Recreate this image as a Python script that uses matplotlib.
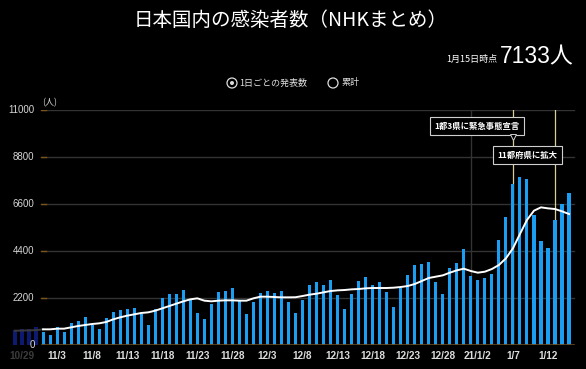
import matplotlib
matplotlib.use("Agg")
import matplotlib.pyplot as plt
from matplotlib.patches import Circle
from matplotlib.transforms import blended_transform_factory
import pandas as pd

plt.rcParams['font.family'] = ['Noto Sans CJK JP', 'DejaVu Sans']
LAT = ['Liberation Sans', 'Noto Sans CJK JP', 'DejaVu Sans']

# ---------------- data ----------------
dates = pd.date_range('2020-10-28', '2021-01-15', freq='D')

daily = [
    700, 770, 750, 830,
    # November
    590, 470, 840, 610, 1030, 1130, 1330, 920, 770, 1260,
    1540, 1660, 1700, 1720, 1440, 930, 1690, 2200, 2370, 2400,
    2570, 2150, 1500, 1220, 1930, 2500, 2520, 2660, 2090, 1430,
    # December
    2020, 2434, 2505, 2440, 2505, 2027, 1495, 2120, 2800, 2950,
    2790, 3025, 2360, 1665, 2405, 3000, 3190, 2815, 2960, 2475,
    1790, 2650, 3255, 3735, 3810, 3865, 2930, 2390, 3595, 3840, 4500,
    # January
    3245, 3040, 3115, 3305, 4900, 5980, 7545, 7865, 7770, 6065,
    4855, 4520, 5860, 6595, 7133,
]

average = [
    670, 675, 685, 695,
    733, 733, 764, 764, 827, 889, 936, 983, 1014, 1076,
    1201, 1295, 1373, 1435, 1498, 1529, 1607, 1716, 1825, 1934,
    2044, 2137, 2184, 2075, 2044, 2075, 2090, 2090, 2075, 2075,
    2184, 2262, 2262, 2246, 2231, 2231, 2235, 2293, 2356, 2402,
    2465, 2527, 2558, 2574, 2605, 2621, 2652, 2668, 2668, 2668,
    2683, 2714, 2761, 2855, 2995, 3136, 3198, 3260, 3385, 3494, 3572,
    3463, 3385, 3432, 3557, 3744, 4056, 4524, 5195, 5850, 6287,
    6443, 6396, 6365, 6256, 6131,
]

y_ticks = [0, 2200, 4400, 6600, 8800, 11000]
x_tick_labels = ['10/29', '11/3', '11/8', '11/13', '11/18', '11/23', '11/28',
                 '12/3', '12/8', '12/13', '12/18', '12/23', '12/28',
                 '21/1/2', '1/7', '1/12']
hidden_days = 4  # days left of the y axis (drawn dimmed)
events = [('2021-01-07', '1都3県に緊急事態宣言'), ('2021-01-13', '11都府県に拡大')]

# ---------------- figure ----------------
W, H = 586, 369
fig = plt.figure(figsize=(W / 100, H / 100), dpi=100, facecolor='black')
ax = fig.add_axes([0, 24 / H, 1, 235 / H])
ax.set_facecolor('black')
px_per_day = 7.013
ax.set_xlim(-15 / px_per_day, (W - 15) / px_per_day)
ax.set_ylim(0, 11000)
for s in ax.spines.values():
    s.set_visible(False)

idx = list(range(len(dates)))
blue = '#1b9df2'
navy = '#0c1a72'
colors = [navy if i < hidden_days else blue for i in idx]
ax.bar(idx, daily, width=0.44, color=colors, zorder=2)

# grid lines
gx0, gx1 = 42 / W, 574 / W
for v in y_ticks[1:]:
    ax.axhline(v, xmin=gx0, xmax=gx1, color='#333333', lw=1.0, zorder=0)
    ax.axhline(v, xmin=41 / W, xmax=46 / W, color='#7a5418', lw=1.0, zorder=1)
ax.axhline(0, xmin=gx0, xmax=gx1, color='#6a4714', lw=1.2, zorder=3)

# year boundary
ny = list(dates).index(pd.Timestamp('2021-01-01'))
ax.axvline(ny, ymin=0, ymax=1, color='#333333', lw=1.0, zorder=0)

# average line
ax.plot(idx[:hidden_days + 1], average[:hidden_days + 1], color='#3a3a3a', lw=1.4, zorder=3)
ax.plot(idx[hidden_days:], average[hidden_days:], color='white', lw=1.4, zorder=4)

# y labels
bt = blended_transform_factory(ax.transAxes, ax.transData)
for v in y_ticks:
    ax.text(34.5 / W, v, str(v), transform=bt, ha='right', va='center',
            fontsize=7, color='#d6d6d6', family=LAT)

# x labels
ax.set_xticks(range(1, len(dates), 5))
ax.set_xticklabels(x_tick_labels)
ax.tick_params(axis='x', length=0, pad=4.5, labelsize=7.2, labelcolor='#dcdcdc')
ax.tick_params(axis='y', left=False, labelleft=False)
for lab in ax.get_xticklabels():
    lab.set_fontweight('bold')
    lab.set_family(LAT)
ax.get_xticklabels()[0].set_color('#3c3c3c')

# event markers
ev_idx = [list(dates).index(pd.Timestamp(d)) for d, _ in events]
for e in ev_idx:
    ax.axvline(e, ymin=0, ymax=1, color='#d8cc9c', lw=0.9, zorder=1)
box_pos = [(65.9, 10250), (73.1, 8890)]
for (xc, yc), (_, txt) in zip(box_pos, events):
    ax.text(xc, yc, txt, ha='center', va='center', fontsize=6, color='white',
            fontweight='bold', zorder=6,
            bbox=dict(boxstyle='square,pad=0.55', fc='black', ec='#cfcfcf', lw=0.8))
ax.plot([ev_idx[0]], [9720], marker='v', ms=4, mfc='black', mec='#cfcfcf', mew=0.7, zorder=7)

# ---------------- overlay texts ----------------
ov = fig.add_axes([0, 0, 1, 1])
ov.set_xlim(0, W)
ov.set_ylim(H, 0)
ov.axis('off')

ov.text(291, 20, '日本国内の感染者数（NHKまとめ）', ha='center', va='center',
        fontsize=14, color='white')
ov.text(497, 62, '1月15日時点', ha='right', va='baseline', fontsize=6.5, color='white')
ov.text(574, 63, f'{daily[-1]}人', ha='right', va='baseline', fontsize=16.5, color='white',
        family=LAT)

ov.add_patch(Circle((232, 83), 5, fill=False, ec='#dddddd', lw=0.9))
ov.add_patch(Circle((232, 83), 2, fc='#dddddd', ec='none'))
ov.text(239.5, 83, '1日ごとの発表数', ha='left', va='center', fontsize=6.5, color='#e0e0e0')
ov.add_patch(Circle((333, 83), 5, fill=False, ec='#dddddd', lw=0.9))
ov.text(342, 83, '累計', ha='left', va='center', fontsize=6.5, color='#e0e0e0')
ov.text(50, 103, '(人)', ha='center', va='center', fontsize=6.5, color='#d6d6d6')

fig.savefig('out.png', dpi=100, facecolor='black')
